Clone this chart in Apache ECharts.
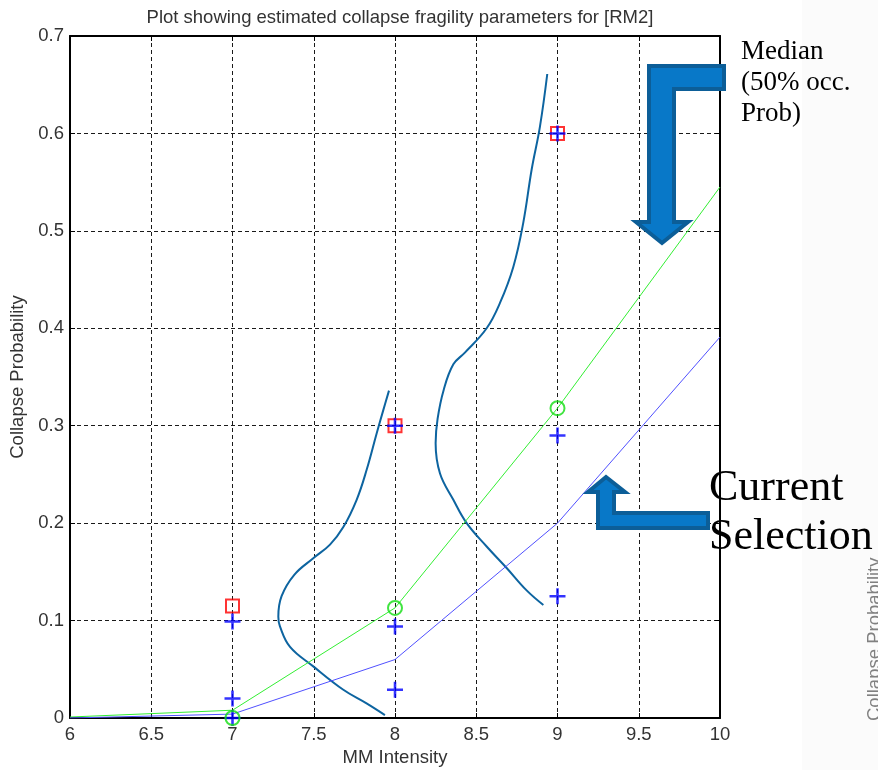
<!DOCTYPE html>
<html>
<head>
<meta charset="utf-8">
<title>Collapse fragility parameters [RM2]</title>
<script src="https://cdn.jsdelivr.net/npm/echarts@6/dist/echarts.min.js"></script>
<style>
  html, body { margin: 0; padding: 0; background: #ffffff; }
  #chart { width: 878px; height: 770px; }
</style>
</head>
<body>
<div id="chart"></div>
<script>
// Fitted collapse fragility curves evaluated at integer MM intensities
const intensity = [6, 7, 8, 9, 10];
const medianFitProb = [0.001, 0.008, 0.113, 0.318, 0.545];
const currentFitProb = [0.0, 0.004, 0.060, 0.200, 0.391];

// Observed collapse rates per intensity level
const observedIM = [7, 8, 9];
const observedProb = [0.115, 0.300, 0.600];

// Individual sample estimates
const sampleIM = [7, 7, 7, 8, 8, 8, 9, 9, 9];
const sampleProb = [0.099, 0.020, 0.000, 0.300, 0.094, 0.029, 0.600, 0.290, 0.125];

// Median-fit points
const medianIM = [7, 8, 9];
const medianProb = [0.000, 0.113, 0.318];

// Sideways probability densities drawn at MM 8 and MM 9  [intensity, probability]
const densityAtEight = [
  [7.938, 0.003], [7.825, 0.015], [7.682, 0.029], [7.497, 0.053], [7.354, 0.073],
  [7.292, 0.094], [7.282, 0.104], [7.302, 0.125], [7.380, 0.147], [7.497, 0.164],
  [7.600, 0.178], [7.682, 0.196], [7.764, 0.224], [7.826, 0.255], [7.887, 0.292],
  [7.928, 0.316], [7.963, 0.336]
];
const densityAtNine = [
  [8.913, 0.116], [8.810, 0.131], [8.687, 0.154], [8.564, 0.176], [8.441, 0.200],
  [8.359, 0.224], [8.277, 0.251], [8.250, 0.282], [8.262, 0.307], [8.300, 0.337],
  [8.359, 0.363], [8.430, 0.375], [8.564, 0.400], [8.646, 0.426], [8.728, 0.463],
  [8.789, 0.508], [8.841, 0.563], [8.892, 0.607], [8.937, 0.661]
];

const zip = (xs, ys) => xs.map((x, i) => [x, ys[i]]);

const axisFont = 'Liberation Sans, Arial, sans-serif';
const serifFont = 'Liberation Serif, Times New Roman, serif';
const gridDash = { type: [4, 3], color: '#1a1a1a', width: 1 };
const arrowFill = '#0878c8';
const arrowEdge = '#0c5e98';
const plusPath = 'path://M8.4,0H11.6V8.4H20V11.6H11.6V20H8.4V11.6H0V8.4H8.4Z';
const textSize = 18.5;

const chart = echarts.init(document.getElementById('chart'), null, { renderer: 'canvas' });

chart.setOption({
  backgroundColor: '#ffffff',
  animation: false,
  title: {
    text: 'Plot showing estimated collapse fragility parameters for [RM2]',
    left: 395,
    top: 3,
    textAlign: 'center',
    textStyle: { fontFamily: axisFont, fontSize: textSize, fontWeight: 'normal', color: '#333333' }
  },
  grid: { left: 70, right: 158, top: 36, bottom: 52, containLabel: false, outerBoundsMode: 'none' },
  xAxis: [
    {
      type: 'value', min: 6, max: 10, interval: 0.5,
      name: 'MM Intensity', nameLocation: 'middle', nameGap: 30,
      nameTextStyle: { fontFamily: axisFont, fontSize: textSize, color: '#333333' },
      axisLine: { show: true, onZero: false, lineStyle: { color: '#000000', width: 2 } },
      axisTick: { show: true, inside: true, length: 5, lineStyle: { color: '#000000', width: 1 } },
      axisLabel: { fontFamily: axisFont, fontSize: textSize, color: '#333333', margin: 7 },
      splitLine: { show: true, lineStyle: gridDash }
    },
    {
      type: 'value', min: 6, max: 10, interval: 0.5, position: 'top',
      axisLine: { show: true, onZero: false, lineStyle: { color: '#000000', width: 2 } },
      axisTick: { show: true, inside: true, length: 5, lineStyle: { color: '#000000', width: 1 } },
      axisLabel: { show: false },
      splitLine: { show: false }
    }
  ],
  yAxis: [
    {
      type: 'value', min: 0, max: 0.7, interval: 0.1,
      name: 'Collapse Probability', nameLocation: 'middle', nameGap: 38,
      nameTextStyle: { fontFamily: axisFont, fontSize: textSize, color: '#333333' },
      axisLine: { show: true, onZero: false, lineStyle: { color: '#000000', width: 2 } },
      axisTick: { show: true, inside: true, length: 5, lineStyle: { color: '#000000', width: 1 } },
      axisLabel: {
        fontFamily: axisFont, fontSize: textSize, color: '#333333', margin: 6,
        formatter: v => String(+v.toFixed(1))
      },
      splitLine: { show: true, lineStyle: gridDash }
    },
    {
      type: 'value', min: 0, max: 0.7, interval: 0.1, position: 'right',
      axisLine: { show: true, onZero: false, lineStyle: { color: '#000000', width: 2 } },
      axisTick: { show: true, inside: true, length: 5, lineStyle: { color: '#000000', width: 1 } },
      axisLabel: { show: false },
      splitLine: { show: false }
    }
  ],
  series: [
    {
      name: 'density MM8', type: 'line', data: densityAtEight, smooth: 0.4,
      showSymbol: false, lineStyle: { color: '#0d64a0', width: 2 }, z: 2
    },
    {
      name: 'density MM9', type: 'line', data: densityAtNine, smooth: 0.4,
      showSymbol: false, lineStyle: { color: '#0d64a0', width: 2 }, z: 2
    },
    {
      name: 'median fit', type: 'line', data: zip(intensity, medianFitProb),
      showSymbol: false, lineStyle: { color: '#33ee33', width: 1 }, z: 3
    },
    {
      name: 'current selection', type: 'line', data: zip(intensity, currentFitProb),
      showSymbol: false, lineStyle: { color: '#5050ff', width: 1 }, z: 3
    },
    {
      name: 'observed', type: 'scatter', data: zip(observedIM, observedProb),
      symbol: 'rect', symbolSize: 13,
      itemStyle: { color: 'rgba(0,0,0,0)', borderColor: '#ff0000', borderWidth: 2 }, z: 4
    },
    {
      name: 'samples', type: 'scatter', data: zip(sampleIM, sampleProb),
      symbol: plusPath, symbolSize: 16,
      itemStyle: { color: '#0000ff' }, z: 5
    },
    {
      name: 'median points', type: 'scatter', data: zip(medianIM, medianProb),
      symbol: 'circle', symbolSize: 14,
      itemStyle: { color: 'rgba(0,0,0,0)', borderColor: '#11dd11', borderWidth: 2 }, z: 6
    }
  ],
  graphic: [
    // faint textured strip on the right edge of the slide
    { type: 'rect', left: 802, top: 0, z: -10, shape: { width: 76, height: 770 }, style: { fill: '#fbfbfb' } },
    {
      type: 'text', x: 875, y: 721, rotation: Math.PI / 2, z: -5,
      style: { text: 'Collapse Probability', fontFamily: axisFont, fontSize: textSize, fill: '#808080', align: 'left', verticalAlign: 'middle' }
    },
    // bent arrow pointing at the median curve
    {
      type: 'polygon', z: 50,
      shape: { points: [[724, 66], [649, 66], [649, 222], [636, 222], [662, 243], [688, 222], [674, 222], [674, 89], [724, 89]] },
      style: { fill: arrowFill, stroke: arrowEdge, lineWidth: 4, lineJoin: 'miter' }
    },
    // bent arrow pointing at the current selection curve
    {
      type: 'polygon', z: 50,
      shape: { points: [[606, 477], [625, 492], [614, 492], [614, 513], [708, 513], [708, 528], [598, 528], [598, 492], [588, 492]] },
      style: { fill: arrowFill, stroke: arrowEdge, lineWidth: 4, lineJoin: 'miter' }
    },
    {
      type: 'text', x: 741, y: 36, z: 60,
      style: { text: 'Median\n(50% occ.\nProb)', fontFamily: serifFont, fontSize: 27, lineHeight: 31, fill: '#000000', align: 'left', verticalAlign: 'top' }
    },
    {
      type: 'text', x: 709, y: 464, z: 60,
      style: { text: 'Current\nSelection', fontFamily: serifFont, fontSize: 44, lineHeight: 49, fill: '#000000', align: 'left', verticalAlign: 'top' }
    }
  ]
});
</script>
</body>
</html>
